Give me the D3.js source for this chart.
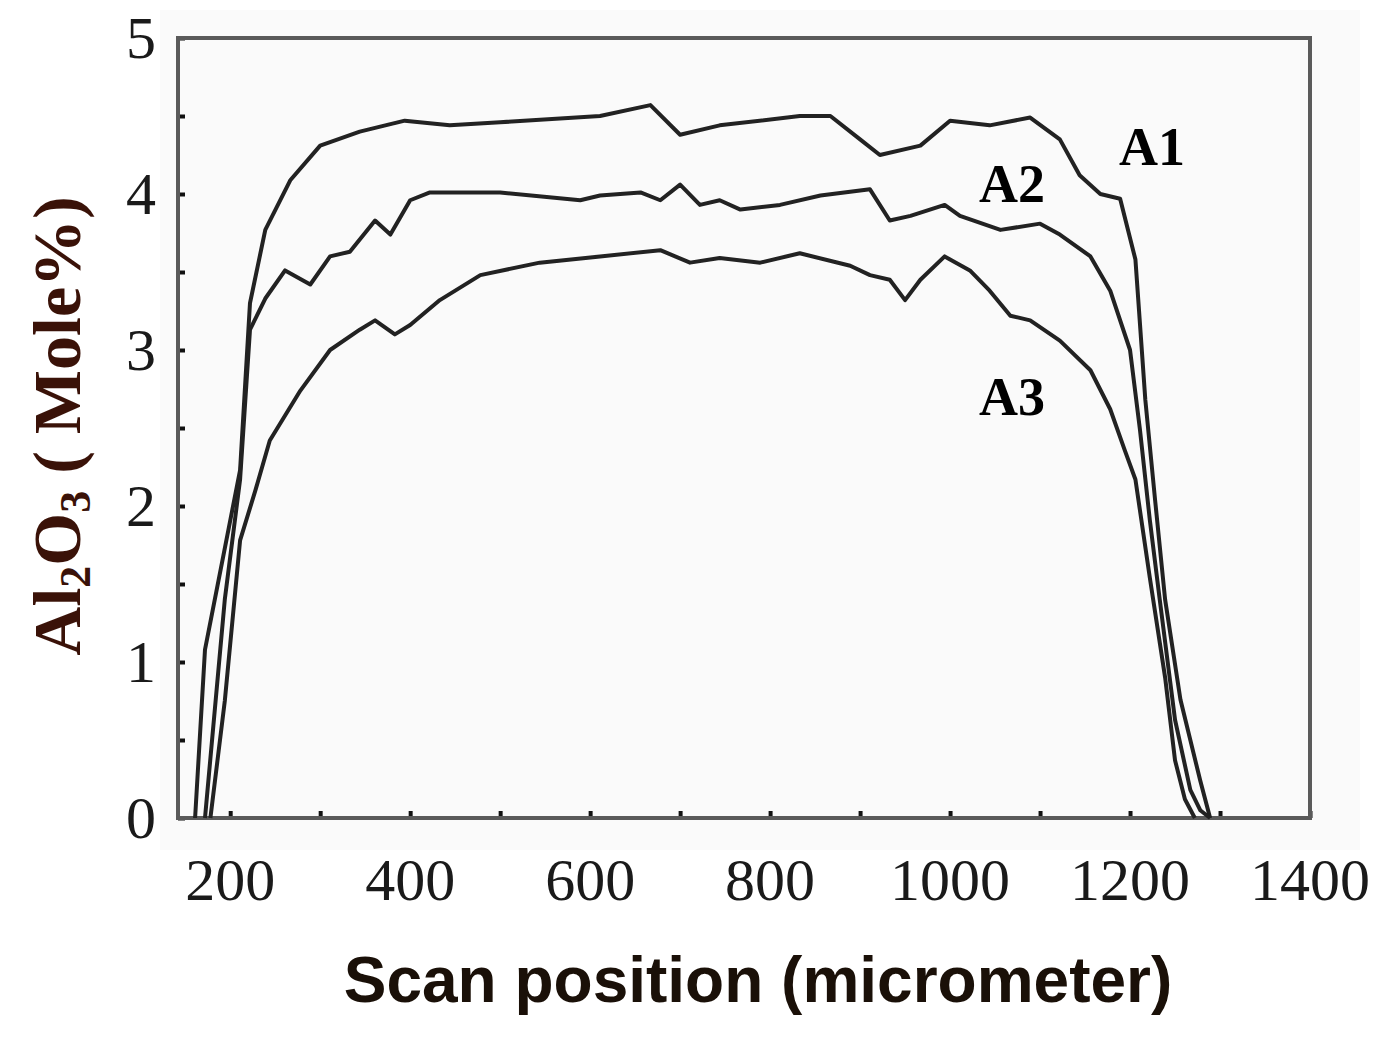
<!DOCTYPE html>
<html><head><meta charset="utf-8">
<script src="https://cdn.jsdelivr.net/npm/d3@7"></script>
<style>body{margin:0;background:#fff}</style>
</head><body>
<svg id="chart" width="1382" height="1037"></svg>
<script>
// scan position (micrometer) and Al2O3 (mole%)
var a1X = [161,172,211,222,239,267,300,344,394,444,500,611,667,700,744,833,867,900,922,967,1000,1044,1089,1122,1144,1167,1189,1206,1217,1228,1239,1256,1278,1289];
var a1Y = [0,1.08,2.23,3.3,3.77,4.09,4.31,4.4,4.47,4.44,4.46,4.5,4.57,4.38,4.44,4.5,4.5,4.35,4.25,4.31,4.47,4.44,4.49,4.35,4.12,4.0,3.97,3.58,2.68,2.03,1.4,0.76,0.24,0];
var a2X = [172,194,211,222,239,261,289,311,333,361,378,400,422,500,589,611,656,678,700,722,744,767,811,856,911,933,956,994,1011,1056,1100,1122,1156,1178,1200,1211,1222,1233,1250,1267,1278,1289];
var a2Y = [0,1.4,2.17,3.13,3.33,3.51,3.42,3.6,3.63,3.83,3.74,3.96,4.01,4.01,3.96,3.99,4.01,3.96,4.06,3.93,3.96,3.9,3.93,3.99,4.03,3.83,3.86,3.93,3.86,3.77,3.81,3.74,3.6,3.38,3.0,2.49,1.91,1.4,0.63,0.18,0.05,0];
var a3X = [178,194,211,228,244,278,311,344,361,383,400,433,478,544,611,678,711,744,789,833,889,911,933,950,967,994,1022,1044,1067,1089,1122,1156,1178,1194,1206,1222,1239,1250,1261,1272];
var a3Y = [0,0.75,1.78,2.1,2.42,2.74,3.0,3.13,3.19,3.1,3.16,3.32,3.48,3.56,3.6,3.64,3.56,3.59,3.56,3.62,3.54,3.48,3.45,3.32,3.45,3.6,3.51,3.38,3.22,3.19,3.06,2.87,2.62,2.36,2.17,1.54,0.9,0.37,0.12,0];
var xTicks = [200,400,600,800,1000,1200,1400];
var yTicks = [0,1,2,3,4,5];
var curveNames = ["A1","A2","A3"];

var svg = d3.select("#chart");
var x = d3.scaleLinear().domain([142, 1400]).range([178, 1310]);
var y = d3.scaleLinear().domain([0, 5]).range([818, 38]);

svg.append("rect").attr("x", 160).attr("y", 10).attr("width", 1200).attr("height", 840).attr("fill", "#fafafa");

// inward ticks, major and minor
var xAx = d3.axisTop(x).tickValues(d3.range(200, 1401, 100)).tickSize(7).tickFormat("");
var yAx = d3.axisRight(y).tickValues(d3.range(0, 5.01, 0.5)).tickSize(7).tickFormat("");
svg.append("g").attr("transform", "translate(0,818)").call(xAx)
  .call(g => g.select(".domain").remove()).selectAll("line").attr("stroke", "#111").attr("stroke-width", 4);
svg.append("g").attr("transform", "translate(178,0)").call(yAx)
  .call(g => g.select(".domain").remove()).selectAll("line").attr("stroke", "#111").attr("stroke-width", 4);

svg.append("rect").attr("x", 178).attr("y", 38).attr("width", 1132).attr("height", 780)
  .attr("fill", "none").attr("stroke", "#5a5a5a").attr("stroke-width", 4);

var line = d3.line().x(d => x(d[0])).y(d => y(d[1]));
[[a1X, a1Y], [a2X, a2Y], [a3X, a3Y]].forEach(function(s) {
  svg.append("path").datum(d3.zip(s[0], s[1])).attr("d", line)
    .attr("fill", "none").attr("stroke", "#222").attr("stroke-width", 4).attr("stroke-linejoin", "round");
});

// tick labels
svg.selectAll(".xt").data(xTicks).enter().append("text")
  .attr("x", d => x(d)).attr("y", 900).attr("text-anchor", "middle")
  .attr("font-family", "Liberation Serif").attr("font-size", 60).attr("fill", "#1a1a1a").text(d => d);
svg.selectAll(".yt").data(yTicks).enter().append("text")
  .attr("x", 156).attr("y", d => y(d) + 20).attr("text-anchor", "end")
  .attr("font-family", "Liberation Serif").attr("font-size", 60).attr("fill", "#1a1a1a").text(d => d);

// curve labels
var labelPos = [[1152, 165], [1012, 202], [1012, 415]];
curveNames.forEach(function(n, i) {
  svg.append("text").attr("x", labelPos[i][0]).attr("y", labelPos[i][1]).attr("text-anchor", "middle")
    .attr("font-family", "Liberation Serif").attr("font-weight", "bold").attr("font-size", 54).text(n);
});

svg.append("text").attr("x", 758).attr("y", 1002).attr("text-anchor", "middle")
  .attr("font-family", "Liberation Sans").attr("font-weight", "bold").attr("font-size", 64)
  .attr("fill", "#1a1008").text("Scan position (micrometer)");

var yl = svg.append("text").attr("transform", "translate(80,426) rotate(-90)").attr("text-anchor", "middle")
  .attr("font-family", "Liberation Serif").attr("font-weight", "bold").attr("font-size", 68).attr("fill", "#3a1208");
yl.append("tspan").text("Al");
yl.append("tspan").attr("font-size", 44).attr("dy", 10).text("2");
yl.append("tspan").attr("dy", -10).text("O");
yl.append("tspan").attr("font-size", 44).attr("dy", 10).text("3");
yl.append("tspan").attr("dy", -10).text(" ( Mole%)");
</script>
</body></html>
